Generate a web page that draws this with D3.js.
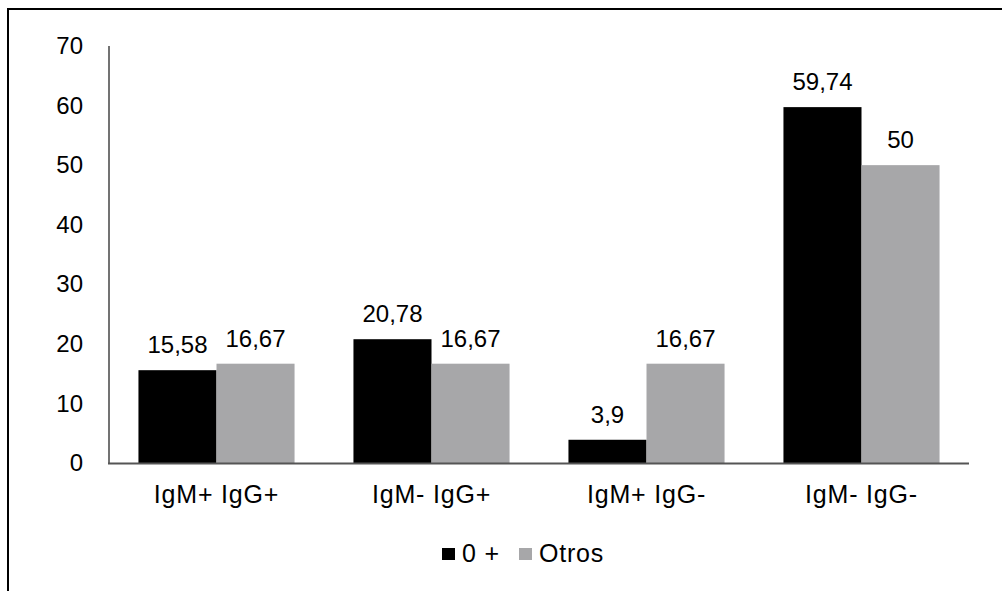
<!DOCTYPE html>
<html>
<head>
<meta charset="utf-8">
<script src="https://cdn.jsdelivr.net/npm/d3@7/dist/d3.min.js"></script>
<style>
  html, body { margin: 0; padding: 0; background: #fff; }
  svg { display: block; font-family: "Liberation Sans", Arial, Helvetica, sans-serif; }
</style>
</head>
<body>
<svg id="chart" width="1002" height="591"></svg>
<script>
// Serological profiles by blood group
const categories = ["IgM+ IgG+", "IgM- IgG+", "IgM+ IgG-", "IgM- IgG-"];
const seriesNames = ["0 +", "Otros"];
const grupo0pos = [15.58, 20.78, 3.9, 59.74];
const otros = [16.67, 16.67, 16.67, 50];
const yTicks = [0, 10, 20, 30, 40, 50, 60, 70];
const valueLabels0 = ["15,58", "20,78", "3,9", "59,74"];
const valueLabelsOtros = ["16,67", "16,67", "16,67", "50"];

const colors = ["#000000", "#a7a7a9"];
const series = [
  { name: seriesNames[0], values: grupo0pos, labels: valueLabels0 },
  { name: seriesNames[1], values: otros, labels: valueLabelsOtros }
];

const svg = d3.select("#chart");

// outer frame (top and left edges)
svg.append("path")
  .attr("d", "M8,591 L8,9 L1002,9")
  .attr("fill", "none")
  .attr("stroke", "#000")
  .attr("stroke-width", 2);

const x0 = d3.scaleBand()
  .domain(categories)
  .range([109, 969])
  .paddingInner(0.274)
  .paddingOuter(0.137);

const x1 = d3.scaleBand()
  .domain(seriesNames)
  .range([0, x0.bandwidth()]);

const y = d3.scaleLinear().domain([0, 70]).range([463, 46]);

const fontSize = 24;

// y tick labels
const yAxis = svg.append("g").attr("transform", "translate(109,0)")
  .call(d3.axisLeft(y).tickValues(yTicks).tickSize(0).tickPadding(26).tickFormat(d3.format("d")));
yAxis.select(".domain").remove();
yAxis.selectAll("text")
  .attr("font-size", fontSize)
  .attr("font-family", "Liberation Sans, Arial, sans-serif")
  .attr("fill", "#000");

// bars
const groups = svg.append("g").selectAll("g")
  .data(series)
  .join("g")
  .attr("fill", (d, i) => colors[i]);

groups.selectAll("rect")
  .data(s => s.values.map((v, i) => ({ s: s.name, cat: categories[i], v })))
  .join("rect")
  .attr("x", d => x0(d.cat) + x1(d.s))
  .attr("y", d => y(d.v))
  .attr("width", x1.bandwidth())
  .attr("height", d => y(0) - y(d.v));

// value labels
groups.selectAll("text")
  .data(s => s.values.map((v, i) => ({ s: s.name, cat: categories[i], v, label: s.labels[i] })))
  .join("text")
  .attr("x", d => x0(d.cat) + x1(d.s) + x1.bandwidth() / 2)
  .attr("y", d => y(d.v) - 17)
  .attr("text-anchor", "middle")
  .attr("font-size", fontSize)
  .attr("fill", "#000")
  .text(d => d.label);

// axis lines
svg.append("line")
  .attr("x1", 109).attr("x2", 109)
  .attr("y1", y(70)).attr("y2", y(0))
  .attr("stroke", "#444").attr("stroke-width", 1.5);
svg.append("line")
  .attr("x1", 108).attr("x2", 969)
  .attr("y1", y(0) + 0.5).attr("y2", y(0) + 0.5)
  .attr("stroke", "#555").attr("stroke-width", 2);

// category labels
const xAxis = svg.append("g").attr("transform", `translate(0,${y(0)})`)
  .call(d3.axisBottom(x0).tickSize(0).tickPadding(22));
xAxis.select(".domain").remove();
xAxis.selectAll("text")
  .attr("font-size", 25)
  .attr("letter-spacing", 0.8)
  .attr("font-family", "Liberation Sans, Arial, sans-serif")
  .attr("fill", "#000");

// legend
const legendItems = [
  { name: seriesNames[0], color: colors[0], x: 442 },
  { name: seriesNames[1], color: colors[1], x: 519 }
];
const legend = svg.append("g").selectAll("g")
  .data(legendItems)
  .join("g")
  .attr("transform", d => `translate(${d.x},548)`);
legend.append("rect")
  .attr("width", 13).attr("height", 12)
  .attr("fill", d => d.color);
legend.append("text")
  .attr("x", 20).attr("y", 14)
  .attr("font-size", 25)
  .attr("letter-spacing", 0.8)
  .attr("fill", "#000")
  .text(d => d.name);
</script>
</body>
</html>
